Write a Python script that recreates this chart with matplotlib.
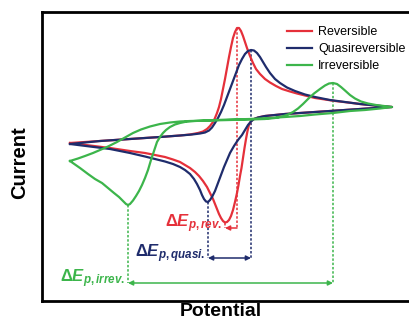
import numpy as np
import matplotlib
matplotlib.use('Agg')
from matplotlib import pyplot as plt

plt.rcParams['font.family'] = ['Liberation Sans', 'DejaVu Sans']
plt.rcParams['mathtext.fontset'] = 'custom'
plt.rcParams['mathtext.rm'] = 'Liberation Sans:bold'
plt.rcParams['mathtext.it'] = 'Liberation Sans:bold:italic'
plt.rcParams['mathtext.bf'] = 'Liberation Sans:bold'

RED = '#e5303a'
NAVY = '#1f2c6c'
GREEN = '#3cb54b'

# reversible couple: forward (upper) sweep then reverse (lower) sweep
rev_fwd_E = [-160, -130, -100, -70, -50, -40, -32, -27, -23, -20, -17, -15, -13, -11, -9, -7,
             -5, -3, -1, 1, 3, 5, 7, 9, 11, 13, 15, 17, 20, 23, 26, 30, 35, 40, 46, 52,
             60, 67, 75, 85, 95, 105, 118, 130, 145, 162]
rev_fwd_I = [-23, -21, -19, -17, -15.5, -14.5, -13, -11.5, -9, -6, -2, 2, 7, 13, 21, 31,
             41, 52, 63, 73, 82, 88, 92, 92, 89, 84, 78, 72, 64, 57, 51, 46, 41, 37.5, 34, 31,
             28.5, 26.5, 24.5, 22, 20.5, 19, 17.5, 16, 14.5, 13]
rev_back_E = [162, 145, 130, 115, 100, 85, 70, 55, 45, 35, 28, 24, 21, 19, 17.5, 16, 14.5, 13,
              11.5, 10, 8.5, 7, 5, 3, 1, -1, -3, -5, -7, -9, -11, -13, -15, -17, -20, -23,
              -27, -31, -35, -40, -45, -50, -57, -65, -75, -85, -100, -120, -140, -160]
rev_back_I = [13, 12, 11, 10, 9, 8, 7, 6, 5, 4, 2.5, 1, -1, -5, -11, -19, -28, -38,
              -48, -56, -65, -73, -82, -90, -96, -100, -102, -102.5, -101, -98, -94, -89, -84, -79, -73, -67,
              -61, -56, -52, -48, -45, -42, -39.5, -37, -35, -33, -31, -28, -25.5, -23]

# quasireversible couple
qua_fwd_E = [-160, -130, -100, -70, -50, -38, -30, -25, -21, -18, -15, -12, -9, -6, -3, 0,
             3, 6, 9, 12, 15, 18, 21, 24, 27, 30, 33, 36, 40, 45, 50, 57, 65, 75, 85, 100,
             115, 130, 145, 162]
qua_fwd_I = [-24, -21, -19, -17, -15.5, -14.5, -13.5, -12.5, -10.5, -7.5, -3, 2, 8, 15, 23, 31,
             39, 47, 55, 61, 66, 69, 70, 69.5, 67, 63, 58, 53, 47, 41, 37, 32.5, 29, 25.5, 23, 20,
             18, 16, 14.5, 13]
qua_back_E = [162, 145, 130, 115, 100, 85, 70, 55, 45, 35, 28, 24, 21, 18, 15, 12, 8, 4, 0,
              -3, -6, -9, -12, -15, -18, -20, -22, -24, -26, -28, -30, -33, -36, -40, -45, -50,
              -57, -65, -75, -85, -100, -120, -140, -160]
qua_back_I = [13, 12, 11, 10, 9, 8, 7, 6, 5, 4, 2.5, 1, -1.5, -5, -10, -15, -20, -26, -33,
              -40, -47, -55, -63, -71, -77, -80, -82, -81.5, -79, -75, -70, -64, -59, -54, -50, -47,
              -44, -41.5, -39, -36.5, -33, -29, -26.5, -24]

# irreversible couple
irr_fwd_E = [-160, -152, -145, -137, -130, -122, -113, -105, -97, -89, -80, -70, -60, -50, -40, -20,
             0, 20, 35, 45, 52, 58, 63, 68, 73, 78, 84, 90, 95, 99, 103, 107, 111, 115, 120, 125,
             131, 138, 146, 154, 162]
irr_fwd_I = [-41, -38.5, -36, -33, -30, -26.5, -22, -17.5, -13, -9.5, -6.5, -4, -2.5, -1.5, -1, -0.5,
             0, 0.5, 1, 2, 3.5, 5.5, 8, 11.5, 16, 21, 26.5, 31, 34.5, 36.5, 37, 36, 33, 29.5, 25, 21.5,
             18.5, 16.5, 15, 14, 13]
irr_back_E = [162, 150, 135, 120, 103, 85, 70, 55, 40, 20, 0, -13, -25, -35, -43, -50, -55, -60,
              -64, -67, -70, -73, -76, -79, -82, -85, -88, -91, -94, -97, -100, -102, -104, -107,
              -111, -116, -122, -128, -135, -142, -150, -155, -160]
irr_back_I = [13, 11.5, 10, 9, 7, 5.5, 4, 3, 2, 1, 0.5, 0, -0.5, -1, -1.5, -3, -4.5, -7,
              -10, -13, -17, -22, -31, -40, -50, -58, -65, -71, -76, -80.5, -84, -85, -84, -81,
              -77, -73, -68, -63, -59, -54, -48, -44.5, -41]

labels = ['Reversible', 'Quasireversible', 'Irreversible']
colors = [RED, NAVY, GREEN]
sweeps = [(rev_fwd_E, rev_fwd_I, rev_back_E, rev_back_I),
          (qua_fwd_E, qua_fwd_I, qua_back_E, qua_back_I),
          (irr_fwd_E, irr_fwd_I, irr_back_E, irr_back_I)]
dE_labels = [r'$\Delta E_{p,rev.}$', r'$\Delta E_{p,quasi.}$', r'$\Delta E_{p,irrev.}$']
arrow_I = [-108, -138, -163]

fig = plt.figure(figsize=(4.1, 3.22), dpi=100)
ax = fig.add_axes([42 / 410, 21 / 322, 370 / 410, 289 / 322])
ax.set_xlim(-188, 182)
ax.set_ylim(-181, 108)

for lab, c, (fE, fI, bE, bI) in zip(labels, colors, sweeps):
    ax.plot(fE + bE[1:], fI + bI[1:], color=c, lw=1.6, label=lab, zorder=3,
            solid_joinstyle='round')

# peak-to-peak separation markers
for i, (c, (fE, fI, bE, bI)) in enumerate(zip(colors, sweeps)):
    ka = int(np.argmax(fI))
    kc = int(np.argmin(bI))
    Ea, Ia = fE[ka], fI[ka]
    Ec, Ic = bE[kc], bI[kc]
    y = arrow_I[i]
    ax.plot([Ea, Ea], [Ia, y], color=c, lw=1.1, ls=(0, (1.6, 1.2)), zorder=2)
    ax.plot([Ec, Ec], [Ic, y], color=c, lw=1.1, ls=(0, (1.6, 1.2)), zorder=2)
    style = '-|>' if i == 0 else '<|-|>'
    ax.annotate('', xy=(Ec, y), xytext=(Ea, y),
                arrowprops=dict(arrowstyle=style, color=c, lw=1.1,
                                mutation_scale=7, shrinkA=0, shrinkB=0))
    ax.text(Ec - 3, y + 1, dE_labels[i], color=c, fontsize=12,
            ha='right', va='baseline')

for s in ax.spines.values():
    s.set_linewidth(2)
ax.set_xticks([])
ax.set_yticks([])

ax.set_xlabel('Potential', fontsize=14, fontweight='bold')
ax.xaxis.set_label_coords(0.484, -0.008)
ax.set_ylabel('Current', fontsize=14.5, fontweight='bold')
ax.yaxis.set_label_coords(-0.035, 0.48)

ax.legend(loc='upper left', bbox_to_anchor=(287 / 410, 296 / 322),
          bbox_transform=fig.transFigure, frameon=False, fontsize=9,
          handlelength=2.0, handletextpad=0.5, labelspacing=0.4,
          borderpad=0, borderaxespad=0)

fig.savefig('out.png', dpi=100, facecolor='white')
